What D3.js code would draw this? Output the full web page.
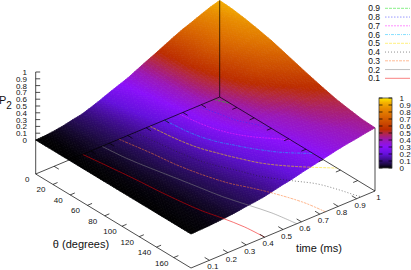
<!DOCTYPE html>
<html>
<head>
<meta charset="utf-8">
<script src="https://cdn.jsdelivr.net/npm/d3@7/dist/d3.min.js"></script>
<style>
  html, body { margin: 0; padding: 0; background: #fff; overflow: hidden; }
  svg { display: block; }
  text { font-family: "Liberation Sans", sans-serif; fill: #111; }
</style>
</head>
<body>
<div id="chart"></div>
<script>
const thetas = [0, 15, 30, 45, 60, 75, 90, 105, 120, 135, 150, 165, 180];
const times = [0, .05, .1, .15, .2, .25, .3, .35, .4, .45, .5, .55, .6, .65, .7, .75, .8, .85, .9, .95, 1];

// P2, one row per theta
const p2Values = [
  [0, .005, .02, .04, .07, .095, .14, .19, .245, .295, .345, .41, .475, .535, .60, .665, .725, .775, .83, .88, .92],
  [0, .005, .02, .04, .065, .09, .13, .175, .225, .27, .325, .395, .455, .52, .58, .64, .70, .75, .80, .85, .905],
  [0, .005, .02, .035, .06, .085, .12, .16, .21, .255, .31, .375, .44, .50, .57, .63, .69, .74, .785, .83, .875],
  [0, .005, .02, .035, .055, .08, .11, .15, .19, .24, .295, .36, .425, .485, .54, .605, .655, .71, .755, .80, .835],
  [0, .005, .015, .03, .05, .075, .105, .14, .18, .225, .275, .335, .405, .46, .51, .565, .615, .66, .705, .75, .79],
  [0, .005, .015, .03, .05, .07, .10, .135, .17, .21, .265, .325, .37, .425, .47, .53, .575, .635, .665, .695, .73],
  [0, .005, .015, .03, .045, .07, .095, .125, .16, .195, .25, .30, .345, .39, .43, .48, .525, .56, .605, .64, .67],
  [0, .005, .015, .025, .04, .065, .09, .115, .15, .185, .225, .27, .315, .36, .40, .44, .475, .51, .54, .575, .61],
  [0, .005, .01, .025, .04, .06, .08, .105, .14, .175, .21, .25, .285, .32, .355, .39, .425, .46, .505, .53, .555],
  [0, .005, .01, .02, .035, .055, .075, .095, .13, .16, .19, .23, .26, .295, .33, .365, .395, .43, .455, .48, .505],
  [0, .005, .01, .02, .035, .05, .07, .09, .115, .15, .18, .205, .24, .275, .305, .34, .37, .40, .43, .45, .47],
  [0, .005, .01, .02, .03, .05, .065, .085, .105, .135, .165, .195, .23, .26, .29, .325, .35, .375, .40, .42, .44],
  [0, .005, .01, .02, .03, .045, .065, .08, .10, .13, .16, .185, .22, .25, .28, .31, .34, .365, .385, .41, .43]
];

// contour lines on the base plane, [theta, time]
const contour01 = [[0, .255], [50, .29], [86, .31], [119, .337], [138, .365], [159, .39], [180, .40]];
const contour02 = [[0, .36], [25, .375], [48, .40], [72, .43], [93, .455], [114, .48], [136, .518], [156, .552], [180, .575]];
const contour03 = [[0, .452], [32, .483], [55, .50], [76, .526], [93, .554], [103, .575], [117, .616], [133, .658], [160, .711], [180, .73]];
const contour04 = [[0, .54], [23, .557], [49, .58], [70, .611], [90, .662], [111, .716], [130, .792], [144, .85], [160, .8875], [175, .914], [180, .925]];
const contour05 = [[0, .62], [26, .637], [47, .662], [63, .697], [76, .729], [96, .788], [115, .877], [136, 1]];
const contour06 = [[0, .70], [28, .717], [48, .751], [61, .79], [72, .825], [91, .90], [108, 1]];
const contour07 = [[0, .78], [28, .806], [47, .846], [61, .896], [78, .979], [84, 1]];
const contour08 = [[0, .88], [21, .911], [33, .927], [44, .958], [58, 1]];
const contour09 = [[0, .97], [5, .98], [12, 1]];

const contourLevels = ['0.1', '0.2', '0.3', '0.4', '0.5', '0.6', '0.7', '0.8', '0.9'];
const contourLines = [contour01, contour02, contour03, contour04, contour05, contour06, contour07, contour08, contour09];
const contourColors = ['#f00000', '#808080', '#ff7a30', '#202020', '#ffe000', '#10c0ff', '#ff20ff', '#3030ff', '#10e010'];
const contourDashes = [null, null, '3,1,2,1', '1,2', '3,1', '3,1,1,1', '2,1', '1.5,1.5', '3,1'];

const thetaTicks = [0, 20, 40, 60, 80, 100, 120, 140, 160];
const timeTicks = [.1, .2, .3, .4, .5, .6, .7, .8, .9, 1];
const zTicks = [0, .1, .2, .3, .4, .5, .6, .7, .8, .9, 1];

const paletteStops = [0, .05, .1, .2, .3, .4, .44, .5, .55, .65, .75, .85, .93, 1];
const paletteColors = ['#000000', '#1c0a40', '#340c78', '#6410dc', '#8a10fa', '#9a18b8', '#a41c88', '#b42840', '#bc2c00', '#cc4c00', '#dc6c00', '#e88c00', '#f4b000', '#ffe800'];
const color = d3.scaleLinear().domain(paletteStops).range(paletteColors);

const W = 411, H = 270;
const originX = 35.7, originY = 174;

const thetaX = d3.scaleLinear().domain([0, 180]).range([0, 155.3]);
const thetaY = d3.scaleLinear().domain([0, 180]).range([0, 94]);
const timeX = d3.scaleLinear().domain([0, 1]).range([0, 184]);
const timeY = d3.scaleLinear().domain([0, 1]).range([0, -77]);
const zY = d3.scaleLinear().domain([0, 1]).range([-34, -102]);

const base = (th, t) => [originX + thetaX(th) + timeX(t), originY + thetaY(th) + timeY(t)];
const proj = (th, t, z) => { const p = base(th, t); return [p[0], p[1] + zY(z)]; };

const svg = d3.select('#chart').append('svg').attr('width', W).attr('height', H);
const line = d3.line();
const seg = (a, b) => line([a, b]);

// surface, back to front, each cell split so the shading runs smoothly
const surface = svg.append('g');
const split = 4;
for (let i = 0; i < thetas.length - 1; i++) {
  for (let j = times.length - 2; j >= 0; j--) {
    const z00 = p2Values[i][j], z01 = p2Values[i][j + 1], z10 = p2Values[i + 1][j], z11 = p2Values[i + 1][j + 1];
    const mix = (u, v) => d3.interpolate(d3.interpolate(z00, z01)(v), d3.interpolate(z10, z11)(v))(u);
    const thAt = d3.interpolate(thetas[i], thetas[i + 1]);
    const tAt = d3.interpolate(times[j], times[j + 1]);
    for (let a = 0; a < split; a++) {
      for (let b = split - 1; b >= 0; b--) {
        const u0 = a / split, u1 = (a + 1) / split, v0 = b / split, v1 = (b + 1) / split;
        const quad = [[u0, v0], [u0, v1], [u1, v1], [u1, v0]].map(q => proj(thAt(q[0]), tAt(q[1]), mix(q[0], q[1])));
        const c = color(mix((u0 + u1) / 2, (v0 + v1) / 2));
        surface.append('path').attr('d', line(quad) + 'Z').attr('fill', c).attr('stroke', c).attr('stroke-width', .8);
      }
    }
  }
}

// contours on the base plane
const contourPath = d3.line().curve(d3.curveCatmullRom);
svg.append('g').selectAll('path').data(contourLines).join('path')
  .attr('d', d => contourPath(d.map(p => base(p[0], p[1]))))
  .attr('fill', 'none')
  .attr('stroke', (d, i) => contourColors[i])
  .attr('stroke-width', .55)
  .attr('stroke-dasharray', (d, i) => contourDashes[i]);

// box
const border = svg.append('g').attr('fill', 'none').attr('stroke', '#000').attr('stroke-width', .7);
const corner0 = base(0, 0), cornerF = base(180, 0), cornerR = base(180, 1), cornerB = base(0, 1);
border.append('path').attr('d', line([corner0, cornerF, cornerR, cornerB]) + 'Z');
border.append('path').attr('d', seg(corner0, [corner0[0], corner0[1] + zY(1)]));
border.append('path').attr('d', seg(cornerB, proj(0, 1, p2Values[0][20])));
border.append('path').attr('d', seg(cornerR, proj(180, 1, p2Values[12][20])));

// ticks, with mirrors on the back edges
thetaTicks.slice(1).forEach(v => {
  border.append('path').attr('d', seg(base(v, 0), base(v, .025)));
  border.append('path').attr('d', seg(base(v, 1), base(v, .975)));
});
timeTicks.slice(0, -1).forEach(v => {
  border.append('path').attr('d', seg(base(180, v), base(174.5, v)));
  border.append('path').attr('d', seg(base(0, v), base(5.5, v)));
});
zTicks.forEach(v => {
  const p = [corner0[0], corner0[1] + zY(v)];
  border.append('path').attr('d', seg(p, [p[0] + 4.5, p[1]]));
});

// tick labels
const label = svg.append('g').attr('font-size', 8);
thetaTicks.forEach(v => {
  const p = base(v, 0);
  label.append('text').attr('x', p[0] - (v ? 12 : 8.5)).attr('y', p[1] + 8).attr('text-anchor', 'middle').text(v);
});
timeTicks.forEach(v => {
  const p = base(180, v);
  label.append('text').attr('x', p[0] + 3.5).attr('y', p[1] + 9).attr('text-anchor', 'middle').text(v);
});
zTicks.forEach(v => {
  label.append('text').attr('x', 27).attr('y', corner0[1] + zY(v) + 3).attr('text-anchor', 'end').text(v);
});

// axis titles
svg.append('text').attr('x', 81).attr('y', 248).attr('text-anchor', 'middle').attr('font-size', 11).text('θ (degrees)');
svg.append('text').attr('x', 319).attr('y', 252).attr('text-anchor', 'middle').attr('font-size', 11).text('time (ms)');
const pLabel = svg.append('text').attr('x', -1).attr('y', 104).attr('font-size', 11);
pLabel.append('tspan').text('P');
pLabel.append('tspan').attr('dy', 5).attr('font-size', 10).text('2');

// contour key
const keyY = d3.scaleLinear().domain([8, 0]).range([8.3, 78.3]);
const key = svg.append('g').selectAll('g').data(d3.range(9)).join('g');
key.append('text').attr('x', 380).attr('y', i => keyY(i) + 3).attr('text-anchor', 'end').attr('font-size', 8.5).text(i => contourLevels[i]);
key.append('path').attr('d', i => seg([385, keyY(i)], [410, keyY(i)]))
  .attr('fill', 'none')
  .attr('stroke', i => contourColors[i])
  .attr('stroke-width', .5)
  .attr('stroke-dasharray', i => contourDashes[i]);

// colour box
const barY = d3.scaleLinear().domain([0, 1]).range([168, 98]);
const grad = svg.append('defs').append('linearGradient').attr('id', 'pal')
  .attr('x1', 0).attr('y1', 1).attr('x2', 0).attr('y2', 0);
paletteStops.forEach((s, i) => grad.append('stop').attr('offset', s).attr('stop-color', paletteColors[i]));
svg.append('rect').attr('x', 379).attr('y', 98).attr('width', 13).attr('height', 70)
  .attr('fill', 'url(#pal)').attr('stroke', '#444').attr('stroke-width', .8);
zTicks.forEach(v => {
  const y = barY(v);
  svg.append('path').attr('d', seg([379, y], [382.5, y])).attr('stroke', '#000').attr('stroke-width', .7);
  svg.append('path').attr('d', seg([388.5, y], [392, y])).attr('stroke', '#000').attr('stroke-width', .7);
  svg.append('text').attr('x', 399.5).attr('y', y + 2.5).attr('font-size', 8).text(v);
});
</script>
</body>
</html>
